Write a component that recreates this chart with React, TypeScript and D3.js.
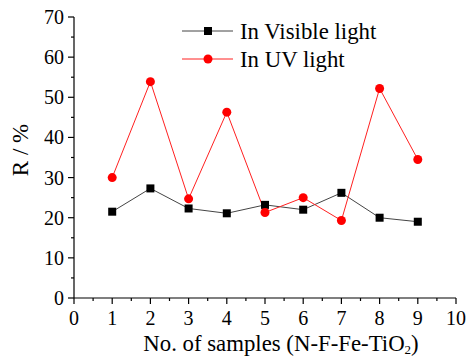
import React from 'react';
import * as d3 from 'd3';

const samples = [1, 2, 3, 4, 5, 6, 7, 8, 9];
const visibleR = [21.5, 27.3, 22.3, 21.1, 23.2, 22.0, 26.2, 20.0, 19.0];
const uvR = [30.0, 53.9, 24.7, 46.3, 21.3, 25.0, 19.3, 52.2, 34.5];
const xTicks = [0, 1, 2, 3, 4, 5, 6, 7, 8, 9, 10];
const yTicks = [0, 10, 20, 30, 40, 50, 60, 70];

const W = 472;
const H = 359;
const font = '"Liberation Serif", "Times New Roman", serif';

const App = () => {
  // 比例尺
  const x = d3.scaleLinear().domain([0, 10]).range([74, 456]);
  const y = d3.scaleLinear().domain([0, 70]).range([298, 17]);

  const line = d3
    .line<number>()
    .x((_, i) => x(samples[i]))
    .y(d => y(d));

  const xMinor = d3.range(0.5, 10, 1);
  const yMinor = d3.range(5, 70, 10);

  return (
    <svg width={W} height={H} style={{ position: 'absolute', left: 0, top: 0 }} fontFamily={font}>
      <rect width={W} height={H} fill="#fff" />

      {/* 坐标轴 */}
      <line x1={x(0)} x2={x(10)} y1={y(0)} y2={y(0)} stroke="#000" strokeWidth={1.2} />
      <line x1={x(0)} x2={x(0)} y1={y(0)} y2={y(70)} stroke="#000" strokeWidth={1.2} />

      {xTicks.map(t => (
        <g key={'xt' + t}>
          <line x1={x(t)} x2={x(t)} y1={y(0)} y2={y(0) + 6} stroke="#000" strokeWidth={1.2} />
          <text x={x(t)} y={325} fontSize={20} textAnchor="middle">{t}</text>
        </g>
      ))}
      {xMinor.map(t => (
        <line key={'xm' + t} x1={x(t)} x2={x(t)} y1={y(0)} y2={y(0) + 3} stroke="#000" strokeWidth={1.2} />
      ))}

      {yTicks.map(t => (
        <g key={'yt' + t}>
          <line x1={x(0) - 6} x2={x(0)} y1={y(t)} y2={y(t)} stroke="#000" strokeWidth={1.2} />
          <text x={64} y={y(t) + 7} fontSize={20} textAnchor="end">{t}</text>
        </g>
      ))}
      {yMinor.map(t => (
        <line key={'ym' + t} x1={x(0) - 3} x2={x(0)} y1={y(t)} y2={y(t)} stroke="#000" strokeWidth={1.2} />
      ))}

      {/* 轴标题 */}
      <text x={281} y={351} fontSize={22.8} textAnchor="middle">
        No. of samples (N-F-Fe-TiO<tspan fontSize={13} dy={3}>2</tspan><tspan dy={-3}>)</tspan>
      </text>
      <text transform="translate(28,150) rotate(-90)" fontSize={23} textAnchor="middle">R / %</text>

      {/* 数据线 */}
      <path d={line(visibleR) || ''} fill="none" stroke="#444" strokeWidth={1} />
      <path d={line(uvR) || ''} fill="none" stroke="#ff2020" strokeWidth={1} />

      {visibleR.map((v, i) => (
        <rect key={'v' + i} x={x(samples[i]) - 4} y={y(v) - 4} width={8} height={8} fill="#000" />
      ))}
      {uvR.map((v, i) => (
        <circle key={'u' + i} cx={x(samples[i])} cy={y(v)} r={4.5} fill="#ff0000" />
      ))}

      {/* 图例 */}
      <line x1={182} x2={233} y1={31} y2={31} stroke="#444" strokeWidth={1} />
      <rect x={204} y={27} width={8} height={8} fill="#000" />
      <text x={240} y={38.5} fontSize={22.8}>In Visible light</text>
      <line x1={182} x2={233} y1={59} y2={59} stroke="#ff2020" strokeWidth={1} />
      <circle cx={208} cy={59} r={4.5} fill="#ff0000" />
      <text x={240} y={66.5} fontSize={22.8}>In UV light</text>
    </svg>
  );
};

export default App;
